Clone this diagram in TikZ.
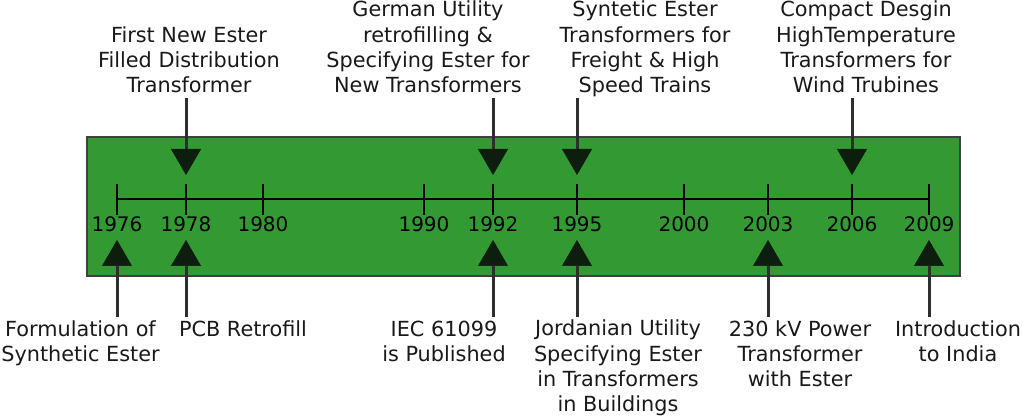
\documentclass[tikz,border=0pt]{standalone}
\usepackage{fontspec}
\setmainfont{DejaVu Sans}
\usetikzlibrary{arrows.meta}
\definecolor{bandgreen}{HTML}{339933}
\definecolor{headdark}{HTML}{0E1E0E}
\definecolor{stemgray}{HTML}{2E2E2E}

\begin{document}
\begin{tikzpicture}[x=1pt,y=-1pt,
  evtext/.style={font=\fontsize{20.8}{25.4}\selectfont,align=center,inner sep=0pt,text=black!90,anchor=base},
  yeartext/.style={font=\fontsize{20}{24}\selectfont,inner sep=0pt,anchor=base},
  evarrow/.style={draw=stemgray,line width=3pt,-{Triangle[width=30pt,length=26pt,line width=0.5pt,fill=headdark,color=headdark]}}]
\useasboundingbox (0,0) rectangle (1023,419);
% green band and time axis
\path[draw=black!75,fill=bandgreen,line width=1.2pt] (87,137) rectangle (960,276);
\coordinate (axisL) at (117,199);
\coordinate (axisR) at (929,199);
\path[draw,line width=2pt] (axisL) -- (axisR);
\foreach \yr/\px in {1976/117,1978/186,1980/263,1990/424,1992/493,1995/577,2000/684,2003/768,2006/852,2009/929}{
  \path[draw,line width=1.5pt] (\px,184) -- (\px,215);
  \node[yeartext] (y\yr) at (\px,232) {\yr};
}
% events above the axis (base = last line)
\node[evtext] (e1978) at (189,93) {First New Ester\\Filled Distribution\\Transformer};
\node[evtext] (e1992) at (428,93) {German Utility\\retrofilling \&\\Specifying Ester for\\New Transformers};
\node[evtext] (e1995) at (645,93) {Syntetic Ester\\Transformers for\\Freight \& High\\Speed Trains};
\node[evtext] (e2006) at (866,93) {Compact Desgin\\HighTemperature\\Transformers for\\Wind Trubines};
\foreach \yr/\px in {1978/186,1992/493,1995/577,2006/852}{
  \coordinate (d\yr) at (\px,98);
  \coordinate (dt\yr) at (\px,175);
  \path[evarrow] (d\yr) -- (dt\yr);
}
% events below the axis
\node[evtext] (f1976) at (80.5,362) {Formulation of\\Synthetic Ester};
\node[evtext] (f1978) at (243,337) {PCB Retrofill};
\node[evtext] (f1992) at (444,362) {IEC 61099\\is Published};
\node[evtext] (f1995) at (618,412) {Jordanian Utility\\Specifying Ester\\in Transformers\\in Buildings};
\node[evtext] (f2003) at (800,387) {230 kV Power\\Transformer\\with Ester};
\node[evtext] (f2009) at (958,362) {Introduction\\to India};
\foreach \yr/\px in {1976/117,1978/186,1992/493,1995/577,2003/768,2009/929}{
  \coordinate (u\yr) at (\px,317);
  \coordinate (ut\yr) at (\px,240);
  \path[evarrow] (u\yr) -- (ut\yr);
}
\end{tikzpicture}
\end{document}
